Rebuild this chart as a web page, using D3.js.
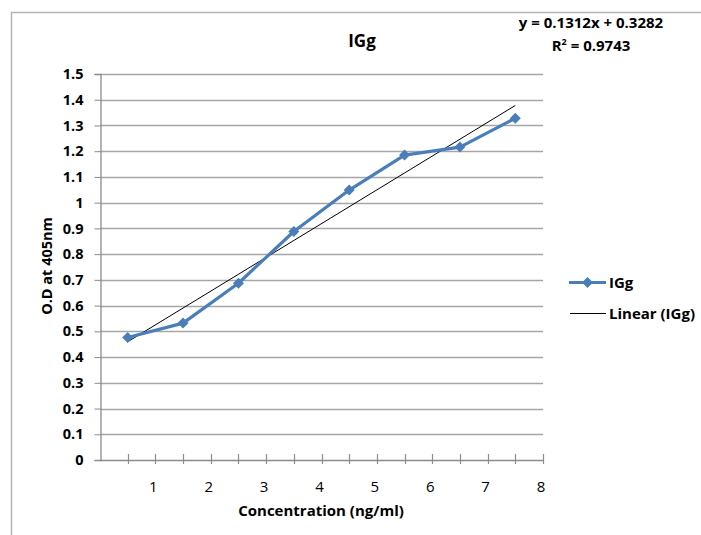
<!DOCTYPE html>
<html><head><meta charset="utf-8">
<script src="https://cdn.jsdelivr.net/npm/d3@7"></script>
<style>body{margin:0;background:#fff}svg{display:block}text{font-family:"Open Sans",sans-serif}</style>
</head><body>
<svg id="c" width="701" height="535"></svg>
<script>
const xPositions = [0.5, 1.5, 2.5, 3.5, 4.5, 5.5, 6.5, 7.5];
const odValues = [0.476, 0.532, 0.687, 0.888, 1.049, 1.185, 1.216, 1.328];
const xTickLabels = [1, 2, 3, 4, 5, 6, 7, 8];
const yTicks = [0,0.1,0.2,0.3,0.4,0.5,0.6,0.7,0.8,0.9,1,1.1,1.2,1.3,1.4,1.5];
const trendSlope = 0.1312, trendIntercept = 0.3282, rSquared = 0.9743;

const svg = d3.select("#c");
// outer frame
svg.append("path").attr("d","M11.5,540 V12.5 H710").attr("fill","none").attr("stroke","#b3b3b3").attr("stroke-width",1.5);

const x = d3.scaleLinear().domain([0,8]).range([100,543]);
const y = d3.scaleLinear().domain([0,1.5]).range([460,74]);

// gridlines
svg.append("g").selectAll("line").data(yTicks.slice(1)).join("line")
  .attr("x1",100).attr("x2",543).attr("y1",d=>Math.round(y(d))+0.5).attr("y2",d=>Math.round(y(d))+0.5)
  .attr("stroke","#a6a6a6").attr("stroke-width",1.3);

// y axis
const yAx = svg.append("g").attr("transform","translate(100.5,0)")
  .call(d3.axisLeft(y).tickValues(yTicks).tickSize(6).tickPadding(11).tickFormat(d=>d3.format("")(+d.toFixed(1))));
yAx.select(".domain").attr("stroke","#8c8c8c").attr("stroke-width",1.3);
yAx.selectAll(".tick line").attr("stroke","#8c8c8c");
yAx.selectAll("text").attr("font-size",14.5).attr("font-weight","bold").attr("fill","#000");

// x axis
const xg = svg.append("g");
xg.append("line").attr("x1",100).attr("x2",543).attr("y1",460.5).attr("y2",460.5).attr("stroke","#8c8c8c").attr("stroke-width",1.3);
xg.selectAll("line.t").data(d3.range(0.5,8.01,0.5)).join("line").attr("class","t")
  .attr("x1",d=>Math.round(x(d))+0.5).attr("x2",d=>Math.round(x(d))+0.5).attr("y1",454).attr("y2",464)
  .attr("stroke","#8c8c8c").attr("stroke-width",1.2);
xg.selectAll("text").data(xTickLabels).join("text")
  .attr("x",d=>x(d)-2).attr("y",492).attr("text-anchor","middle").attr("font-size",15).text(d=>d);

// trendline
svg.append("line")
  .attr("x1",x(xPositions[0])).attr("y1",y(trendSlope*1+trendIntercept))
  .attr("x2",x(xPositions[xPositions.length-1])).attr("y2",y(trendSlope*xPositions.length+trendIntercept))
  .attr("stroke","#000").attr("stroke-width",1);

// series line
const pts = xPositions.map((d,i)=>[d,odValues[i]]);
svg.append("path").datum(pts).attr("d",d3.line().x(d=>x(d[0])).y(d=>y(d[1])))
  .attr("fill","none").attr("stroke","#4a7ebb").attr("stroke-width",3.2).attr("stroke-linejoin","round");
const diamond = "M0,-5.5L5.5,0L0,5.5L-5.5,0Z";
svg.selectAll("path.m").data(pts).join("path").attr("class","m")
  .attr("d",diamond).attr("transform",d=>`translate(${x(d[0])},${y(d[1])})`).attr("fill","#4a7ebb");

// title
svg.append("text").attr("x",362).attr("y",47).attr("text-anchor","middle").attr("font-size",17).attr("font-weight","bold").text("IGg");

// equation
svg.append("text").attr("x",591).attr("y",28).attr("text-anchor","middle").attr("font-size",15).attr("font-weight","bold")
  .text(`y = ${trendSlope}x + ${trendIntercept}`);
const r2 = svg.append("text").attr("x",591).attr("y",51).attr("text-anchor","middle").attr("font-size",15).attr("font-weight","bold");
r2.append("tspan").text("R");
r2.append("tspan").attr("font-size",9).attr("dy",-6).text("2");
r2.append("tspan").attr("dy",6).text(` = ${rSquared}`);

// axis titles
svg.append("text").attr("transform","translate(52,266) rotate(-90)").attr("text-anchor","middle")
  .attr("font-size",14.5).attr("font-weight","bold").text("O.D at 405nm");
svg.append("text").attr("x",321).attr("y",516).attr("text-anchor","middle")
  .attr("font-size",15).attr("font-weight","bold").text("Concentration (ng/ml)");

// legend
const lg = svg.append("g");
lg.append("line").attr("x1",569).attr("x2",606).attr("y1",282.5).attr("y2",282.5).attr("stroke","#4a7ebb").attr("stroke-width",3.2);
lg.append("path").attr("d",diamond).attr("transform","translate(587.5,282.5)").attr("fill","#4a7ebb");
lg.append("text").attr("x",609).attr("y",288).attr("font-size",15).attr("font-weight","bold").text("IGg");
lg.append("line").attr("x1",570).attr("x2",606).attr("y1",313.5).attr("y2",313.5).attr("stroke","#000").attr("stroke-width",1);
lg.append("text").attr("x",609).attr("y",319).attr("font-size",15).attr("font-weight","bold").text("Linear (IGg)");
</script>
</body></html>
